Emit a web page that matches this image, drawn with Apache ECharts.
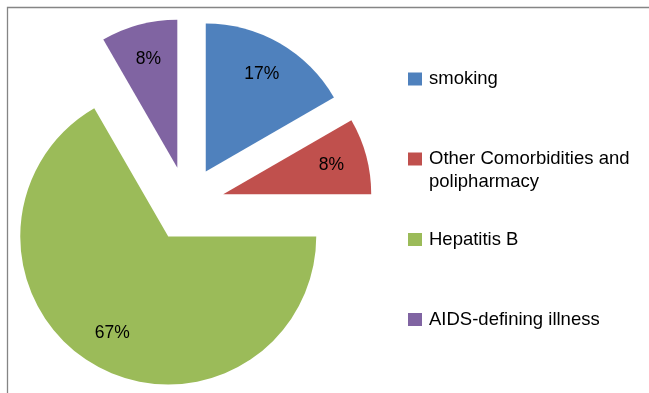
<!DOCTYPE html>
<html>
<head>
<meta charset="utf-8">
<style>html,body{margin:0;padding:0;background:#fff;}#c{width:649px;height:393px;}</style>
<script src="https://cdn.jsdelivr.net/npm/echarts@6/dist/echarts.min.js"></script>
</head>
<body>
<div id="c"></div>
<script>
var categories = ['smoking', 'Other Comorbidities and polipharmacy', 'Hepatitis B', 'AIDS-defining illness'];
var values = [2, 1, 8, 1];
var colors = ['#4F81BD', '#C0504D', '#9BBB59', '#8064A2'];
var legendLabels = ['smoking', 'Other Comorbidities and\npolipharmacy', 'Hepatitis B', 'AIDS-defining illness'];

var FONT = "'Liberation Sans', Arial, sans-serif";
var chart = echarts.init(document.getElementById('c'), null, {renderer: 'canvas'});

function pieData(withColor) {
  return categories.map(function (n, i) {
    return {name: n, value: values[i], selected: true,
      itemStyle: withColor ? {color: colors[i]} : {color: 'rgba(0,0,0,0)'}};
  });
}

var legendTops = [67.5, 124.5, 228, 308];
var legends = categories.map(function (n, i) {
  var two = legendLabels[i].indexOf('\n') >= 0;
  return {
    orient: 'vertical', left: 408, top: legendTops[i], padding: 0,
    itemWidth: 14, itemHeight: 13, itemGap: 0, icon: 'rect',
    selectedMode: false,
    data: [{name: n, itemStyle: {color: colors[i]}}],
    formatter: function () { return two ? ' \n' + legendLabels[i] : legendLabels[i]; },
    textStyle: {fontFamily: FONT, fontSize: 18.5, color: '#000', lineHeight: 23,
      padding: [0, 0, 0, 2]}
  };
});

var option = {
  animation: false,
  backgroundColor: '#fff',
  legend: legends,
  graphic: [{
    type: 'rect', silent: true,
    shape: {x: 7.5, y: 7.5, width: 900, height: 700},
    style: {fill: 'none', stroke: '#858585', lineWidth: 1.3}
  }],
  series: [{
    type: 'pie', center: [187, 204], radius: [0, 148],
    startAngle: 90, clockwise: true,
    selectedMode: 'multiple', selectedOffset: 37.5,
    avoidLabelOverlap: false,
    label: {show: false}, labelLine: {show: false},
    emphasis: {disabled: true},
    select: {itemStyle: {}},
    data: pieData(true)
  }, {
    type: 'pie', center: [187, 204], radius: [70, 148],
    startAngle: 90, clockwise: true, silent: true, z: 3,
    selectedMode: 'multiple', selectedOffset: 37.5,
    avoidLabelOverlap: false,
    label: {show: true, position: 'inside', fontFamily: FONT, fontSize: 17.5, color: '#000',
      formatter: function (p) { return Math.round(p.percent) + '%'; }},
    labelLine: {show: false},
    emphasis: {disabled: true},
    data: pieData(false)
  }]
};
chart.setOption(option);
</script>
</body>
</html>
